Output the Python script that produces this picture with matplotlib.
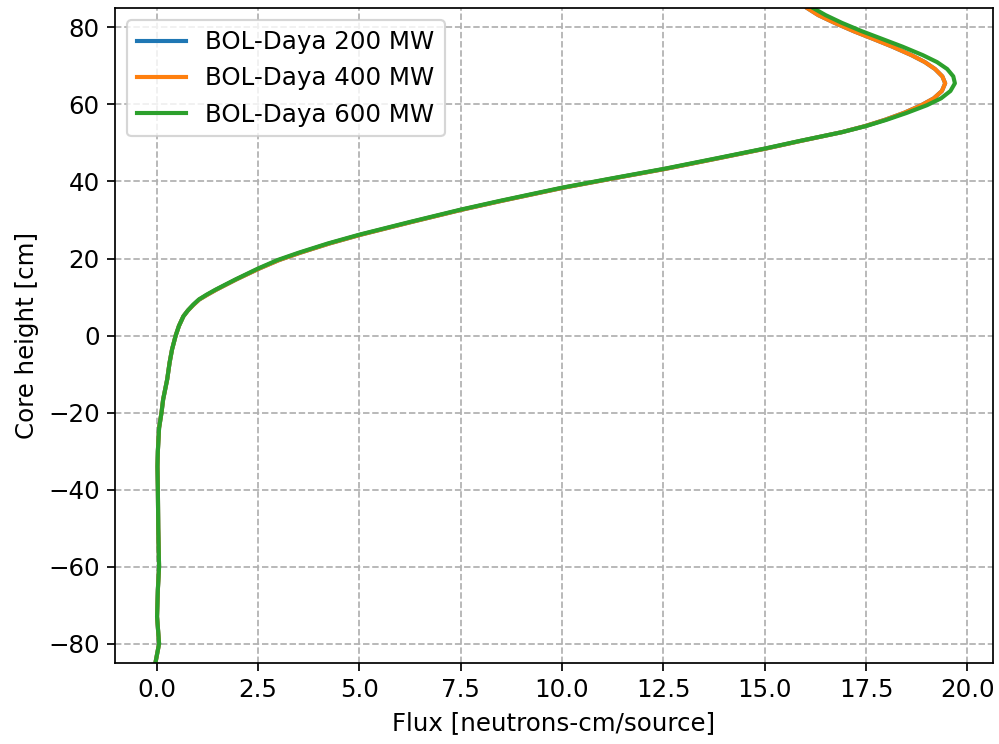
import matplotlib
matplotlib.use("Agg")
import matplotlib.pyplot as plt

# core height [cm]
height = [-85, -80, -73, -66, -60, -50, -40, -34, -30, -24, -20, -16.6, -11.4,
          -7, -3.6, 0, 2.5, 5, 6.5, 8, 9.35, 10.6, 11.9, 13.2, 14.6, 17.4, 19.6,
          21.5, 23.9, 26.2, 29.5, 32.7, 35.0, 38.4, 40.8, 43.3, 46.0, 48.6,
          50.5, 52.8, 54.4, 56.0, 57.8, 59.8, 61.6, 63.5, 65.5, 67.3, 69.2,
          71.0, 72.8, 75.0, 77.0, 79.0, 81.2, 83.2, 85]

flux_600 = [-0.03, 0.06, 0.01, 0.03, 0.06, 0.04, 0.03, 0.02, 0.03, 0.06, 0.12,
            0.16, 0.26, 0.32, 0.38, 0.47, 0.55, 0.66, 0.77, 0.9, 1.04, 1.23,
            1.45, 1.69, 1.95, 2.5, 2.98, 3.5, 4.22, 5.0, 6.25, 7.5, 8.48, 10.0,
            11.22, 12.52, 13.8, 15.02, 15.85, 16.9, 17.5, 18.0, 18.5, 19.0,
            19.35, 19.58, 19.69, 19.65, 19.5, 19.25, 18.9, 18.4, 17.9, 17.4,
            16.9, 16.5, 16.2]

flux_400 = [-0.03, 0.06, 0.01, 0.03, 0.06, 0.04, 0.03, 0.02, 0.03, 0.06, 0.12,
            0.16, 0.26, 0.32, 0.38, 0.47, 0.55, 0.66, 0.77, 0.91, 1.05, 1.25,
            1.47, 1.71, 1.97, 2.53, 3.02, 3.54, 4.26, 5.04, 6.29, 7.54, 8.52,
            10.04, 11.26, 12.56, 13.84, 15.05, 15.87, 16.9, 17.48, 17.96, 18.43,
            18.86, 19.17, 19.37, 19.45, 19.38, 19.2, 18.95, 18.62, 18.15, 17.68,
            17.2, 16.72, 16.32, 16.05]

flux_200 = flux_400

plt.rcParams["font.size"] = 11.3

fig, ax = plt.subplots(figsize=(999 / 156, 744 / 156), dpi=156)
fig.subplots_adjust(left=0.115, right=0.994, bottom=0.109, top=0.989)

ax.plot(flux_200, height, lw=1.9, label="BOL-Daya 200 MW")
ax.plot(flux_400, height, lw=1.9, label="BOL-Daya 400 MW")
ax.plot(flux_600, height, lw=1.9, label="BOL-Daya 600 MW")

ax.set_xlim(-1.03, 20.63)
ax.set_ylim(-85, 85)
ax.set_xticks([0, 2.5, 5, 7.5, 10, 12.5, 15, 17.5, 20])
ax.set_yticks(range(-80, 81, 20))
ax.grid(True, linestyle="--", color="#b0b0b0")
ax.set_xlabel("Flux [neutrons-cm/source]")
ax.set_ylabel("Core height [cm]")
ax.legend(loc="upper left")

fig.savefig("out.png", dpi=156)
